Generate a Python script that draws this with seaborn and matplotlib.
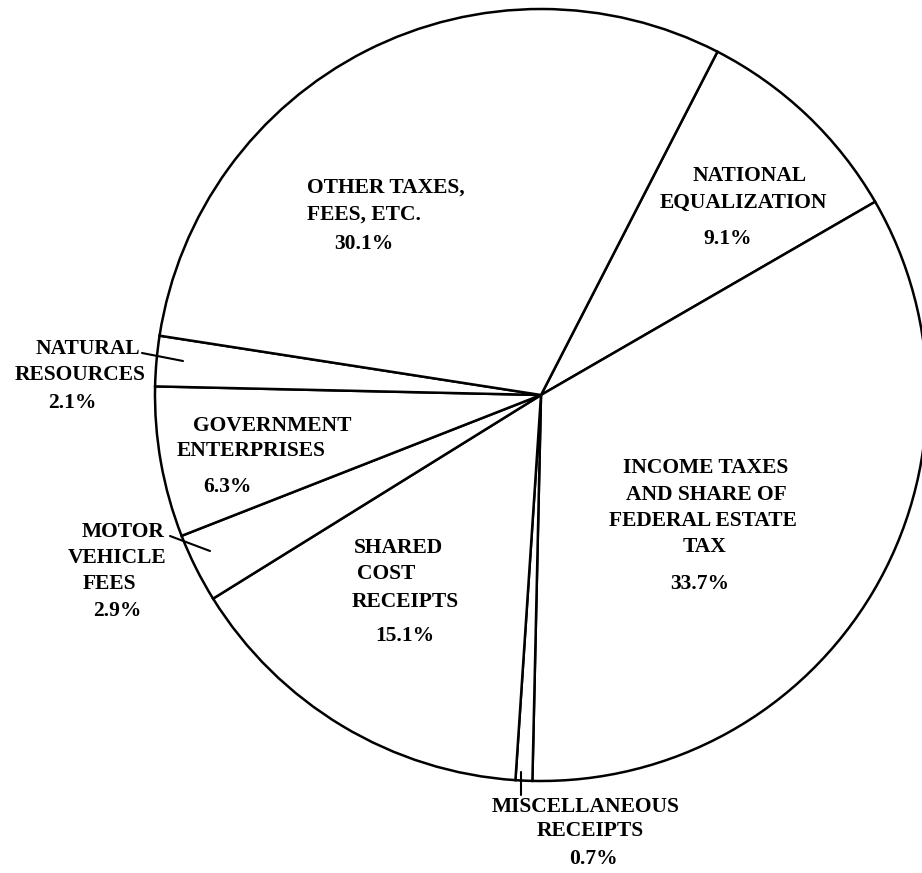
import numpy as np
import pandas as pd
import matplotlib
matplotlib.use("Agg")
import matplotlib.pyplot as plt
import seaborn as sns

# shares of revenue, clockwise from the top-right wedge
sources = ["NATIONAL EQUALIZATION", "INCOME TAXES AND SHARE OF FEDERAL ESTATE TAX",
           "MISCELLANEOUS RECEIPTS", "SHARED COST RECEIPTS", "MOTOR VEHICLE FEES",
           "GOVERNMENT ENTERPRISES", "NATURAL RESOURCES", "OTHER TAXES, FEES, ETC."]
shares = [9.1, 33.7, 0.7, 15.1, 2.9, 6.3, 2.1, 30.1]

df = pd.DataFrame({"source": sources, "share": shares})

sns.set_theme(style="white")
plt.rcParams["font.family"] = ["Liberation Serif", "DejaVu Serif"]

# pixel layout of the scanned page: pie centre and radius
CX, CY, R = 541, 395, 386
W, H = 922, 873


def P(px, py):
    return (px - CX) / R, (CY - py) / R


fig = plt.figure(figsize=(W / 100, H / 100), dpi=100)
ax = fig.add_axes([0, 0, 1, 1])
ax.pie(df["share"], startangle=62.8, counterclock=False, radius=1, center=(0, 0),
       wedgeprops=dict(facecolor="white", edgecolor="black", linewidth=1.8))
ax.set_xlim(-CX / R, (W - CX) / R)
ax.set_ylim(-(H - CY) / R, CY / R)
ax.axis("off")

# label lines: text, x, y (pixel page position), alignment
labels = [
    ("NATIONAL", 750, 176, "center"), ("EQUALIZATION", 743, 203, "center"), ("9.1%", 728, 239, "center"),
    ("OTHER TAXES,", 307, 188, "left"), ("FEES, ETC.", 307, 215, "left"), ("30.1%", 364, 244, "center"),
    ("NATURAL", 140, 349, "right"), ("RESOURCES", 80, 375, "center"), ("2.1%", 72, 403, "center"),
    ("GOVERNMENT", 272, 426, "center"), ("ENTERPRISES", 251, 451, "center"), ("6.3%", 227, 487, "center"),
    ("MOTOR", 123, 532, "center"), ("VEHICLE", 117, 558, "center"), ("FEES", 109, 584, "center"),
    ("2.9%", 117, 611, "center"),
    ("SHARED", 398, 548, "center"), ("COST", 386, 574, "center"), ("RECEIPTS", 405, 602, "center"),
    ("15.1%", 405, 636, "center"),
    ("INCOME TAXES", 706, 468, "center"), ("AND SHARE OF", 706, 495, "center"),
    ("FEDERAL ESTATE", 703, 521, "center"), ("TAX", 704, 547, "center"), ("33.7%", 700, 584, "center"),
    ("MISCELLANEOUS", 586, 807, "center"), ("RECEIPTS", 590, 831, "center"), ("0.7%", 593, 859, "center"),
]
for txt, px, py, ha in labels:
    x, y = P(px, py)
    ax.text(x, y, txt, ha=ha, va="center", fontsize=15.5, fontweight="bold", color="black")

# leader lines for the thin wedges
leaders = [((142, 353), (183, 361)), ((170, 536), (210, 551)), ((521, 772), (521, 795))]
for a, b in leaders:
    (x0, y0), (x1, y1) = P(*a), P(*b)
    ax.plot([x0, x1], [y0, y1], color="black", lw=1.5)

fig.savefig("out.png", dpi=100, facecolor="white")
